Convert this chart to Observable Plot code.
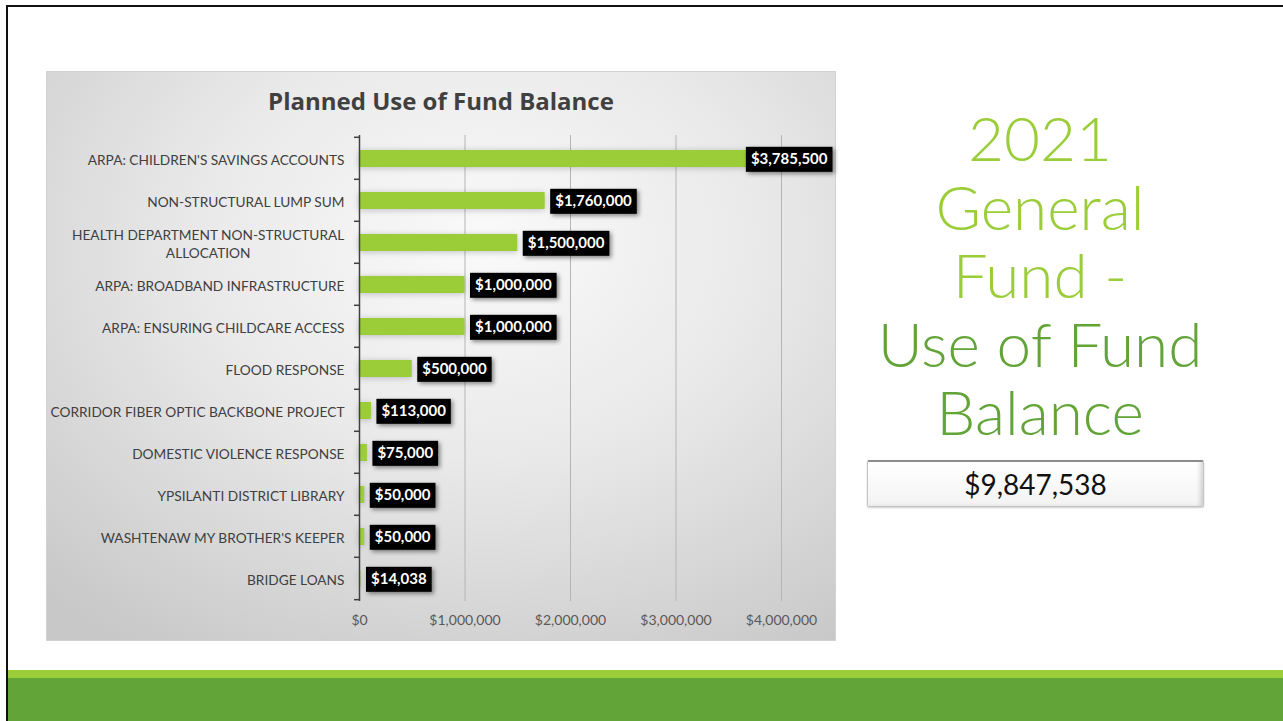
<!DOCTYPE html>
<html>
<head>
<meta charset="utf-8">
<script src="https://cdn.jsdelivr.net/npm/d3@7"></script>
<script src="https://cdn.jsdelivr.net/npm/@observablehq/plot@0.6"></script>
<style>
html, body { margin: 0; padding: 0; background: #fff; width: 1283px; height: 721px; overflow: hidden; position: relative; font-family: Lato, "Open Sans", sans-serif; }
#topline { position: absolute; left: 6px; top: 5px; width: 1277px; height: 2px; background: #111; }
#leftline { position: absolute; left: 6px; top: 5px; width: 2px; height: 716px; background: #111; }
#band1 { position: absolute; left: 8px; top: 670px; width: 1275px; height: 8px; background: #9ACD37; }
#band2 { position: absolute; left: 8px; top: 678px; width: 1275px; height: 43px; background: #62A438; }
#panel { position: absolute; left: 47px; top: 72px; width: 788px; height: 568px;
  background: radial-gradient(ellipse 80% 85% at 55% 30%, #fafafa 0%, #e9e9e9 45%, #c8c8c8 100%);
  outline: 1px solid #d2d2d2; }
#title { position: absolute; left: 0; width: 100%; top: 12px; text-align: center; font: bold 24px "Open Sans", Lato, sans-serif; color: #404040; }
#chart { position: absolute; left: 0; top: 53px; line-height: 0; }
#heading { position: absolute; left: 840px; width: 400px; top: 103px; text-align: center; font-family: Lato, "Open Sans", sans-serif; font-weight: 300; font-size: 62px; line-height: 68.5px; }
#heading .l1 { color: #9ACD37; }
#heading .l2 { color: #62A438; }
#total { position: absolute; left: 867px; top: 460px; width: 337px; height: 47px; box-sizing: border-box;
  border: 1px solid #c4c4c4; border-top: 2px solid #8c8c8c; border-radius: 2px;
  background: linear-gradient(#ffffff, #f3f3f3); box-shadow: inset -6px -2px 4px -3px rgba(0,0,0,0.15), 0 1px 2px rgba(0,0,0,0.2);
  text-align: center; font: 28px Lato, "Open Sans", sans-serif; line-height: 45px; color: #111; }
</style>
</head>
<body>
<div id="topline"></div>
<div id="leftline"></div>
<div id="panel">
  <div id="title"></div>
  <div id="chart"></div>
</div>
<div id="heading">
  <div class="l1">2021</div>
  <div class="l1">General</div>
  <div class="l1">Fund -</div>
  <div class="l2">Use of Fund</div>
  <div class="l2">Balance</div>
</div>
<div id="total"></div>
<div id="band1"></div>
<div id="band2"></div>
<script>
const chartTitle = "Planned Use of Fund Balance";
const categories = [
  "ARPA: CHILDREN'S SAVINGS ACCOUNTS",
  "NON-STRUCTURAL LUMP SUM",
  "HEALTH DEPARTMENT NON-STRUCTURAL\nALLOCATION",
  "ARPA: BROADBAND INFRASTRUCTURE",
  "ARPA: ENSURING CHILDCARE ACCESS",
  "FLOOD RESPONSE",
  "CORRIDOR FIBER OPTIC BACKBONE PROJECT",
  "DOMESTIC VIOLENCE RESPONSE",
  "YPSILANTI DISTRICT LIBRARY",
  "WASHTENAW MY BROTHER'S KEEPER",
  "BRIDGE LOANS"
];
const values = [3785500, 1760000, 1500000, 1000000, 1000000, 500000, 113000, 75000, 50000, 50000, 14038];
const xTicks = [0, 1000000, 2000000, 3000000, 4000000];

const fmt = d3.format("$,");
document.getElementById("title").textContent = chartTitle;
document.getElementById("total").textContent = fmt(d3.sum(values));

const data = categories.map((c, i) => ({category: c, value: values[i]}));

const W = 788, H = 515, mL = 312, mR = 54, mT = 10, mB = 39;
const step = (H - mT - mB) / categories.length;
const padIn = 0.6, padOut = 0.3;

const measureCtx = document.createElement("canvas").getContext("2d");
function textWidth(str, font) { measureCtx.font = font; return measureCtx.measureText(str).width; }

const labelFontSize = 15;
const labelFont = `bold ${labelFontSize}px Lato`;
const catFontSize = 13.7;
const catFont = `${catFontSize}px Lato`;
const labelDx = 10, boxPad = 5;

// value-label boxes drawn behind each label; kept inside the chart area
function boxRender(index, scales, vals, dims, context, next) {
  const g = next(index, scales, vals, dims, context);
  const texts = Array.from(g.querySelectorAll("text"));
  texts.forEach((t, k) => {
    const w = textWidth(t.textContent, labelFont);
    const i = index[k];
    const right = vals.x[i] + labelDx + w + boxPad;
    const shift = Math.max(0, right - (dims.width - 3));
    const wrap = document.createElementNS("http://www.w3.org/2000/svg", "g");
    wrap.setAttribute("transform", `translate(${-shift},0)`);
    const r = document.createElementNS("http://www.w3.org/2000/svg", "rect");
    const tr = t.getAttribute("transform");
    if (tr) r.setAttribute("transform", tr);
    const tx = parseFloat(t.getAttribute("x")) || 0;
    const ty = parseFloat(t.getAttribute("y")) || 0;
    r.setAttribute("x", tx - boxPad);
    r.setAttribute("y", ty - 12.5);
    r.setAttribute("width", w + 2 * boxPad);
    r.setAttribute("height", 25);
    r.setAttribute("fill", "#000");
    r.style.filter = "drop-shadow(2px 2px 2px rgba(0,0,0,0.45))";
    t.parentNode.insertBefore(wrap, t);
    wrap.appendChild(r);
    wrap.appendChild(t);
  });
  return g;
}

// center multi-line category labels
function catRender(index, scales, vals, dims, context, next) {
  const g = next(index, scales, vals, dims, context);
  g.querySelectorAll("text").forEach(t => {
    const spans = t.querySelectorAll("tspan");
    if (spans.length > 1) {
      const w = d3.max(Array.from(spans), s => textWidth(s.textContent, catFont));
      t.setAttribute("text-anchor", "middle");
      spans.forEach(s => s.setAttribute("x", -w / 2));
    }
  });
  return g;
}

// y-axis boundary ticks (Excel style, at category boundaries)
function boundaryTicks(index, scales) {
  const y = scales.y, x = scales.x;
  const bw = step * (1 - padIn);
  const bounds = categories.map(c => y(c) - padOut * step);
  bounds.push(y(categories[categories.length - 1]) + bw + padOut * step);
  const g = d3.create("svg:g").attr("stroke", "#404040").attr("stroke-width", 1.5);
  g.selectAll("line").data(bounds).join("line")
    .attr("x1", x(0) - 5).attr("x2", x(0)).attr("y1", d => d).attr("y2", d => d);
  return g.node();
}

const chart = Plot.plot({
  width: W, height: H,
  marginLeft: mL, marginRight: mR, marginTop: mT, marginBottom: mB,
  style: {background: "transparent", overflow: "visible", fontFamily: "Lato, 'Open Sans', sans-serif"},
  x: {domain: [0, 4000000], axis: null, label: null},
  y: {domain: categories, paddingInner: padIn, paddingOuter: padOut, axis: null, label: null},
  marks: [
    Plot.gridX(xTicks.filter(d => d > 0), {stroke: "#b5b5b5", strokeOpacity: 1, strokeWidth: 1}),
    Plot.axisX(xTicks, {tickSize: 0, tickPadding: 14, tickFormat: fmt, fontSize: 14, fill: "#595959", label: null}),
    Plot.barX(data, {x: "value", y: "category", fill: "#9ACD37",
      render: (i, s, v, d, c, next) => { const g = next(i, s, v, d, c); g.style.filter = "drop-shadow(0px 1px 3px rgba(0,0,0,0.22))"; return g; }}),
    Plot.ruleX([0], {stroke: "#404040", strokeWidth: 1.5}),
    boundaryTicks,
    Plot.text(data, {frameAnchor: "left", y: "category", text: "category", textAnchor: "end", dx: -15,
      fontSize: catFontSize, fill: "#404040", lineHeight: 1.35, render: catRender}),
    Plot.text(data, {x: "value", y: "category", text: d => fmt(d.value), textAnchor: "start", dx: labelDx,
      fill: "#fff", fontWeight: "bold", fontSize: labelFontSize, fontFamily: "Lato", render: boxRender})
  ]
});
document.getElementById("chart").appendChild(chart);
</script>
</body>
</html>
